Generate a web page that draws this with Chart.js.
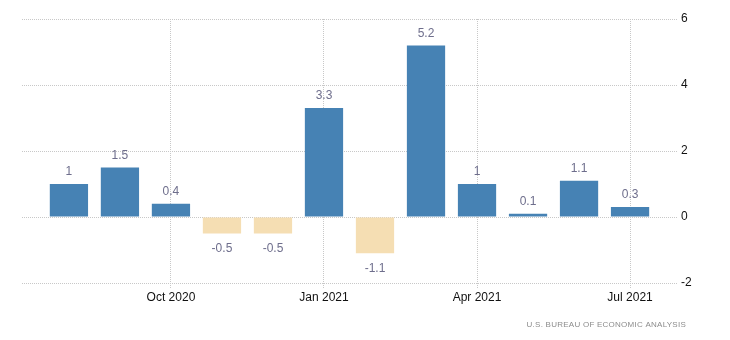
<!DOCTYPE html>
<html>
<head>
<meta charset="utf-8">
<script src="https://cdn.jsdelivr.net/npm/chart.js@4/dist/chart.umd.min.js"></script>
<style>
  html, body { margin: 0; padding: 0; background: #fff; }
  #wrap { width: 730px; height: 340px; }
</style>
</head>
<body>
<div id="wrap"><canvas id="myChart" width="730" height="340"></canvas></div>
<script>
const months = ["Aug 2020", "Sep 2020", "Oct 2020", "Nov 2020", "Dec 2020", "Jan 2021",
  "Feb 2021", "Mar 2021", "Apr 2021", "May 2021", "Jun 2021", "Jul 2021"];
const values = [1, 1.5, 0.4, -0.5, -0.5, 3.3, -1.1, 5.2, 1, 0.1, 1.1, 0.3];
const tickLabels = ["Oct 2020", "Jan 2021", "Apr 2021", "Jul 2021"];
const yTicks = [-2, 0, 2, 4, 6];

const FONT = "'Liberation Sans', Arial, sans-serif";
const canvas = document.getElementById("myChart");

// posiciones de los ticks del eje x (indices de los meses)
const tickIdx = tickLabels.map((t) => months.indexOf(t));

// etiquetas de valor encima / debajo de cada barra
const valueLabels = {
  id: "valueLabels",
  afterDatasetsDraw(chart) {
    const ctx = chart.ctx;
    const meta = chart.getDatasetMeta(0);
    ctx.save();
    ctx.font = "12px " + FONT;
    ctx.fillStyle = "#6e6e8c";
    ctx.textAlign = "center";
    ctx.textBaseline = "middle";
    meta.data.forEach((bar, i) => {
      const v = values[i];
      const y = v >= 0 ? bar.y - 12 : bar.y + 15;
      ctx.fillText(String(v), bar.x, y);
    });
    ctx.restore();
  },
};

const sourceText = {
  id: "sourceText",
  afterDraw(chart) {
    const ctx = chart.ctx;
    ctx.save();
    ctx.font = "8px " + FONT;
    ctx.fillStyle = "#8c8c8c";
    ctx.textAlign = "right";
    ctx.textBaseline = "middle";
    ctx.letterSpacing = "0.25px";
    ctx.fillText("U.S. BUREAU OF ECONOMIC ANALYSIS", 686, 325);
    ctx.restore();
  },
};

new Chart(canvas, {
  type: "bar",
  data: {
    datasets: [
      {
        data: values.map((v, i) => ({ x: i, y: v })),
        backgroundColor: values.map((v) => (v >= 0 ? "#4682b4" : "#f5deb3")),
        barPercentage: 0.75,
        categoryPercentage: 1,
      },
    ],
  },
  options: {
    responsive: false,
    animation: false,
    layout: { padding: { left: 22, top: 19, right: 0, bottom: 0 } },
    plugins: {
      legend: { display: false },
      tooltip: { enabled: false },
    },
    scales: {
      x: {
        type: "linear",
        offset: false,
        min: -0.92,
        max: 11.94,
        afterBuildTicks: (scale) => {
          scale.ticks = tickIdx.map((v) => ({ value: v }));
        },
        afterFit: (scale) => {
          scale.height = 57;
        },
        border: { display: false, dash: [1, 1] },
        grid: {
          offset: false,
          color: "#c8c8c8",
          tickLength: 5,
          tickBorderDash: [1, 1],
          tickColor: "#c8c8c8",
        },
        ticks: {
          autoSkip: false,
          maxRotation: 0,
          padding: 2,
          color: "#111",
          font: { size: 12, family: FONT },
          callback: (v) => months[v],
        },
      },
      y: {
        position: "right",
        min: -2,
        max: 6,
        afterBuildTicks: (scale) => {
          scale.ticks = yTicks.map((v) => ({ value: v }));
        },
        afterFit: (scale) => {
          scale.width = 52;
        },
        border: { display: false, dash: [1, 1] },
        grid: {
          color: "#c8c8c8",
          drawTicks: false,
        },
        ticks: {
          padding: 3,
          color: "#111",
          font: { size: 12, family: FONT },
        },
      },
    },
  },
  plugins: [valueLabels, sourceText],
});
</script>
</body>
</html>
